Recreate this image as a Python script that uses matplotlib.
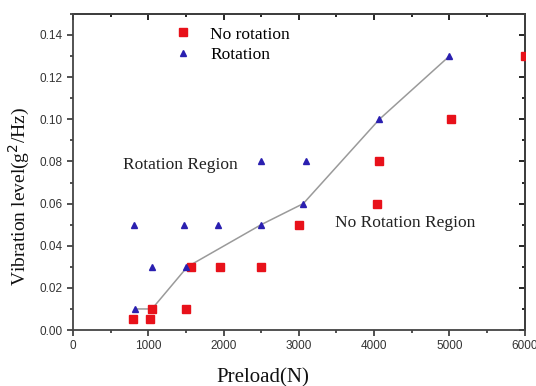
import numpy as np
import matplotlib.pyplot as plt
from matplotlib.ticker import MultipleLocator

# Data
norot_x = [800, 1020, 1050, 1500, 1570, 1950, 2500, 3000, 4040, 4060, 5020, 6000]
norot_y = [0.005, 0.005, 0.01, 0.01, 0.03, 0.03, 0.03, 0.05, 0.06, 0.08, 0.10, 0.13]

rot_x = [830, 810, 1050, 1500, 1480, 1930, 2500, 2500, 3060, 3100, 4070, 5000]
rot_y = [0.01, 0.05, 0.03, 0.03, 0.05, 0.05, 0.05, 0.08, 0.06, 0.08, 0.10, 0.13]

bound_x = [830, 1050, 1520, 2500, 3060, 4070, 5000]
bound_y = [0.01, 0.01, 0.03, 0.05, 0.06, 0.10, 0.13]

serif = "Liberation Serif"
sans = "Liberation Sans"

fig = plt.figure(figsize=(5.36, 3.86), dpi=100)
ax = fig.add_axes([0.136, 0.145, 0.843, 0.819])

ax.plot(bound_x, bound_y, color="#9a9a9a", lw=1.1, zorder=1)
ax.plot(norot_x, norot_y, ls="none", marker="s", ms=5.5, color="#e8111a",
        label="No rotation", zorder=3)
ax.plot(rot_x, rot_y, ls="none", marker="^", ms=3.8, color="#2a1fb0",
        label="Rotation", zorder=3)

ax.set_xlim(0, 6000)
ax.set_ylim(0, 0.15)
ax.xaxis.set_major_locator(MultipleLocator(1000))
ax.xaxis.set_minor_locator(MultipleLocator(500))
ax.yaxis.set_minor_locator(MultipleLocator(0.01))
ax.set_yticks(np.arange(0, 0.141, 0.02))
ax.set_yticklabels([f"{v:.2f}" for v in np.arange(0, 0.141, 0.02)])

ax.tick_params(which="both", direction="out", top=False, right=False,
               labelsize=8.5, colors="#333333", width=1.2)
ax.tick_params(which="major", length=4)
ax.tick_params(which="minor", length=2.5)
for lab in ax.get_xticklabels() + ax.get_yticklabels():
    lab.set_fontfamily(sans)
    lab.set_color("#333333")

sec_x = ax.secondary_xaxis("top")
sec_x.xaxis.set_major_locator(MultipleLocator(1000))
sec_x.xaxis.set_minor_locator(MultipleLocator(500))
sec_x.tick_params(which="both", direction="in", labeltop=False, width=1.2)
sec_x.tick_params(which="major", length=4)
sec_x.tick_params(which="minor", length=2.5)
sec_y = ax.secondary_yaxis("right")
sec_y.yaxis.set_major_locator(MultipleLocator(0.02))
sec_y.yaxis.set_minor_locator(MultipleLocator(0.01))
sec_y.tick_params(which="both", direction="in", labelright=False, width=1.2)
sec_y.tick_params(which="major", length=4)
sec_y.tick_params(which="minor", length=2.5)
for s in ax.spines.values():
    s.set_linewidth(1.3)
    s.set_color("#444444")
sec_x.spines["top"].set_linewidth(1.3)
sec_y.spines["right"].set_linewidth(1.3)

fig.text(0.49, 0.022, "Preload(N)", fontfamily=serif, fontsize=15,
         ha="center", va="center", color="#111111")
fig.text(0.037, 0.49, "Vibration level(g$^2$/Hz)", fontfamily=serif,
         fontsize=14, rotation=90, ha="center", va="center", color="#111111")

ax.text(664, 0.0783, "Rotation Region", fontfamily=serif, fontsize=12.5,
        va="center", color="#222222")
ax.text(3478, 0.0508, "No Rotation Region", fontfamily=serif, fontsize=12.5,
        va="center", color="#222222")

ax.legend(loc="upper left", bbox_to_anchor=(0.17, 1.01), frameon=False,
          prop={"family": serif, "size": 12.5}, handletextpad=0.6,
          labelspacing=0.25)

fig.savefig("out.png", dpi=100)
